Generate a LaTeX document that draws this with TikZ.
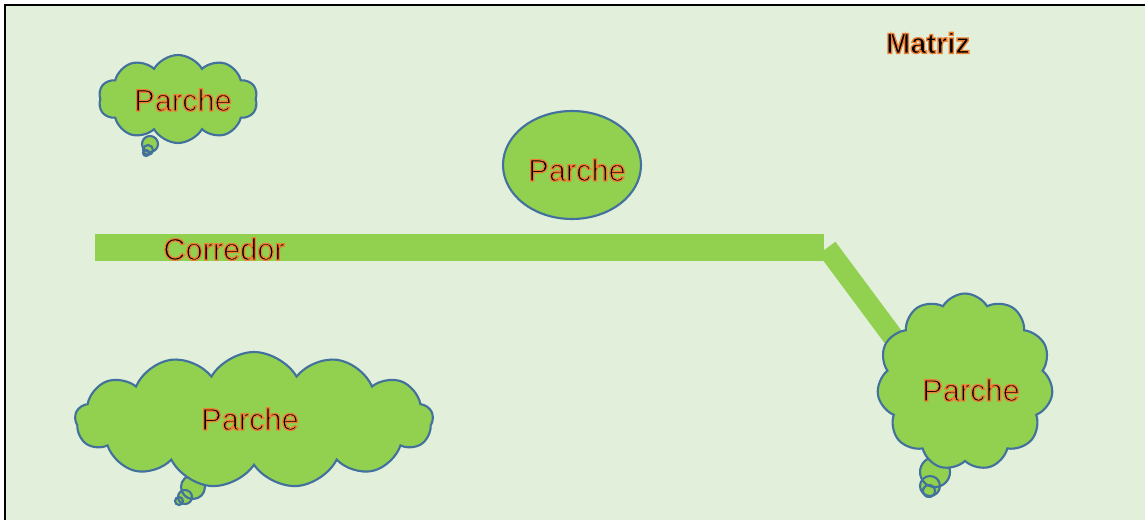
\documentclass[tikz,border=0pt]{standalone}
\usepackage{fontspec}
\setmainfont{Liberation Sans}
\usepackage{tikz}
\usetikzlibrary{shapes.geometric}
\usetikzlibrary{shapes.symbols}
\definecolor{matrizbg}{HTML}{E2EFDA}
\definecolor{patchgreen}{HTML}{92D050}
\definecolor{patchblue}{HTML}{41719C}
% black letters with an orange outline
\newcommand{\glowtext}[1]{\special{pdf:literal direct 2 Tr 0.75 w 0.929 0.490 0.192 RG}#1\special{pdf:literal direct 0 Tr 0 G}}
\tikzset{patch/.style={draw=patchblue,fill=patchgreen,line width=1.2pt,inner sep=0pt}}
\tikzset{cloudpatch/.style={patch,cloud,cloud ignores aspect,cloud puff arc=120}}
\tikzset{patchtext/.style={font=\fontsize{17.5}{20}\selectfont,inner sep=0pt}}

\begin{document}
\begin{tikzpicture}[x=0.02cm,y=-0.02cm]
\useasboundingbox (0,0) rectangle (1145,520);
\fill[matrizbg] (5,5) rectangle (1145,520);
\draw[line width=1.6pt] (5,520) -- (5,5) -- (1145,5);

% corridor
\coordinate (c0) at (95,247.5);
\coordinate (c1) at (824,247.5);
\coordinate (c2) at (827,248);
\coordinate (c3) at (908,357);
\draw[patchgreen,line width=27*0.02cm] (c0) -- (c1);
\draw[patchgreen,line width=21*0.02cm] (c2) -- (c3);
\node[patchtext] (corr) at (224,249) {\glowtext{Corredor}};

% thought bubbles under the clouds
\foreach \x/\y/\r in {150/144/8, 148/150/5, 146/153/3,
                      193/487/12, 185/497/7, 179/501/4,
                      935/472/15, 930/486/10, 929/491/6} {
    \fill[patchgreen] (\x,\y) circle (\r);
}
\foreach \x/\y/\r in {150/144/8, 148/150/5, 146/153/3,
                      193/487/12, 185/497/7, 179/501/4,
                      935/472/15, 930/486/10, 929/491/6} {
    \draw[patchblue,line width=1.2pt] (\x,\y) circle (\r);
}

\node[cloudpatch,cloud puffs=10,minimum width=3.18cm,minimum height=1.76cm] (p1) at (178,99) {};
\node[patch,ellipse,minimum width=2.76cm,minimum height=2.16cm] (p2) at (572,165) {};
\node[cloudpatch,cloud puffs=13,minimum width=7.16cm,minimum height=2.72cm] (p3) at (254,420) {};
\node[cloudpatch,cloud puffs=11,minimum width=3.52cm,minimum height=3.54cm] (p4) at (965,382) {};

\node[patchtext] (t1) at (183,100) {\glowtext{Parche}};
\node[patchtext] (t2) at (577,170) {\glowtext{Parche}};
\node[patchtext] (t3) at (250,419) {\glowtext{Parche}};
\node[patchtext] (t4) at (971,390) {\glowtext{Parche}};

\node[patchtext,font=\bfseries\fontsize{16.5}{20}\selectfont] (matriz) at (928,43) {\glowtext{Matriz}};
\end{tikzpicture}
\end{document}
